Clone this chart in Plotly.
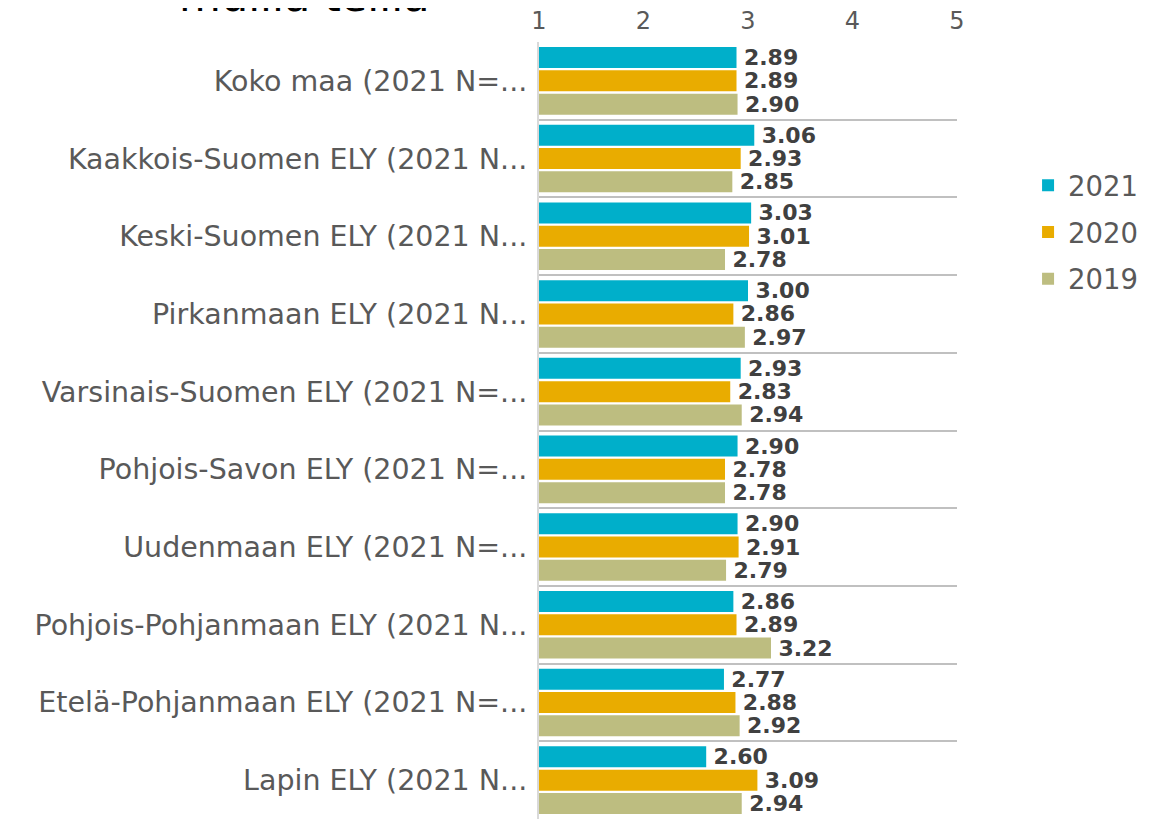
import plotly.graph_objects as go

categories = [
    "Koko maa (2021 N=...",
    "Kaakkois-Suomen ELY (2021 N...",
    "Keski-Suomen ELY (2021 N...",
    "Pirkanmaan ELY (2021 N...",
    "Varsinais-Suomen ELY (2021 N=...",
    "Pohjois-Savon ELY (2021 N=...",
    "Uudenmaan ELY (2021 N=...",
    "Pohjois-Pohjanmaan ELY (2021 N...",
    "Etelä-Pohjanmaan ELY (2021 N=...",
    "Lapin ELY (2021 N...",
]
values_2021 = [2.89, 3.06, 3.03, 3.00, 2.93, 2.90, 2.90, 2.86, 2.77, 2.60]
values_2020 = [2.89, 2.93, 3.01, 2.86, 2.83, 2.78, 2.91, 2.89, 2.88, 3.09]
values_2019 = [2.90, 2.85, 2.78, 2.97, 2.94, 2.78, 2.79, 3.22, 2.92, 2.94]
series_names = ["2021", "2020", "2019"]
series_colors = ["#00AFCA", "#E9AC00", "#BDBD80"]
tick_values = [1, 2, 3, 4, 5]
title_text = "muilla teillä"

fig = go.Figure()
for name, vals, col in zip(series_names, [values_2021, values_2020, values_2019], series_colors):
    fig.add_trace(go.Bar(
        y=categories, x=vals, name=name, orientation="h",
        legendgroup=name,
        marker=dict(color=col, line=dict(width=0)),
        texttemplate="\u2009<b>%{x:.2f}</b>", textposition="outside",
        textfont=dict(family="DejaVu Sans", size=22, color="#404040"),
        constraintext="none", cliponaxis=False,
    ))

# page body has an 8px margin, so the figure is sized to fit the window
fig.update_layout(
    width=1159, height=811, autosize=False,
    margin=dict(l=531, r=210, t=34, b=0, autoexpand=False),
    paper_bgcolor="white", plot_bgcolor="white",
    barmode="group", bargap=0.1, bargroupgap=0.1,
    font=dict(family="DejaVu Sans", color="#595959"),
    legend=dict(
        x=1.17, xanchor="left", y=0.755, yanchor="middle",
        traceorder="grouped", tracegroupgap=8,
        font=dict(family="DejaVu Sans", size=27.5, color="#595959"),
    ),
    xaxis=dict(
        side="top", range=[1, 5], tickvals=tick_values,
        showgrid=False, zeroline=False, showline=False,
        ticklabelstandoff=7,
        tickfont=dict(family="DejaVu Sans", size=24, color="#595959"),
    ),
    yaxis=dict(
        autorange="reversed", tickson="boundaries",
        showgrid=True, gridcolor="#C0C0C0", gridwidth=2,
        showline=True, linecolor="#D9D9D9", linewidth=2,
        ticks="", ticklabelstandoff=4,
        tickfont=dict(family="DejaVu Sans", size=28.5, color="#595959"),
    ),
    annotations=[dict(
        text=title_text, xref="paper", yref="paper",
        x=-0.56, y=1.0245, xanchor="center", yanchor="bottom",
        showarrow=False, font=dict(family="DejaVu Sans", size=43, color="#000000"),
    )],
)

fig.write_html("out.html")
